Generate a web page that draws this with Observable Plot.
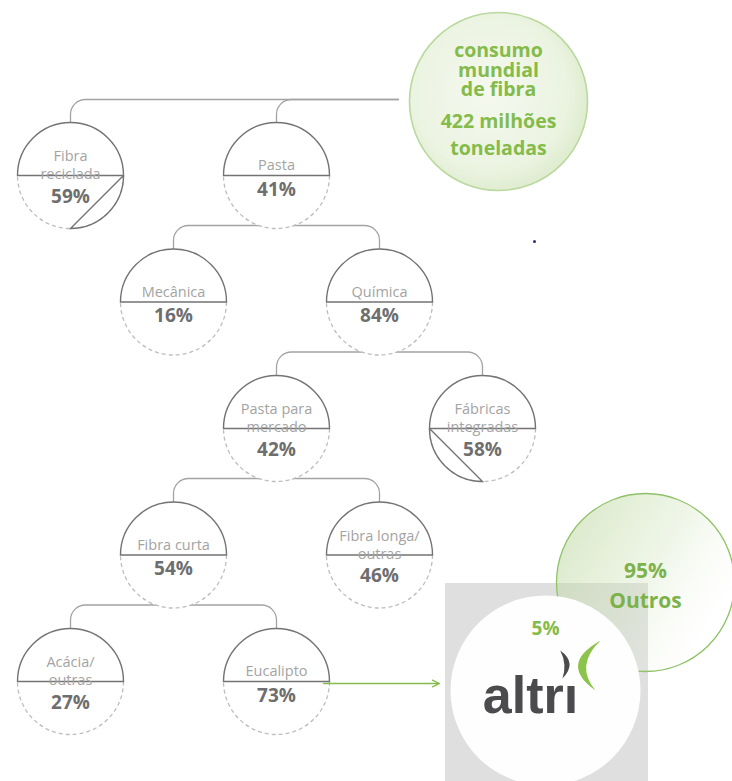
<!DOCTYPE html>
<html>
<head>
<meta charset="utf-8">
<script src="https://cdn.jsdelivr.net/npm/d3@7"></script>
<script src="https://cdn.jsdelivr.net/npm/@observablehq/plot@0.6"></script>
<style>
  html, body { margin: 0; padding: 0; background: #fff; }
  #chart { width: 732px; height: 781px; }
</style>
</head>
<body>
<div id="chart"></div>
<script>
// ---------------- DATA ----------------
const nodeNames   = ["Fibra reciclada", "Pasta", "Mecânica", "Química", "Pasta para mercado", "Fábricas integradas", "Fibra curta", "Fibra longa/outras", "Acácia/outras", "Eucalipto"];
const nodeLabels  = ["Fibra\nreciclada", "Pasta", "Mecânica", "Química", "Pasta para\nmercado", "Fábricas\nintegradas", "Fibra curta", "Fibra longa/\noutras", "Acácia/\noutras", "Eucalipto"];
const nodeShares  = [59, 41, 16, 84, 42, 58, 54, 46, 27, 73];
const nodeParents = [null, null, "Pasta", "Pasta", "Química", "Química", "Pasta para mercado", "Pasta para mercado", "Fibra curta", "Fibra curta"];
const nodeSides   = ["L", "R", "L", "R", "L", "R", "L", "R", "L", "R"];
const slashedNodes = ["Fibra reciclada", "Fábricas integradas"];
const rootTitle   = ["consumo", "mundial", "de fibra"];
const rootTotal   = ["422 milhões", "toneladas"];
const marketNames  = ["altri", "Outros"];
const marketShares = [5, 95];
const highlighted  = "Eucalipto";

// ---------------- LAYOUT ----------------
const X0 = 70, COL = 103, Y0 = 175, ROW = 126.5, R = 53;
const px2x = px => (px - X0) / COL;
const py2y = py => (py - Y0) / ROW + 1;

const nodes = nodeNames.map((name, i) => ({
  name, label: nodeLabels[i], share: nodeShares[i], parent: nodeParents[i], side: nodeSides[i]
}));
const byName = new Map(nodes.map(d => [d.name, d]));
for (const d of nodes) {
  if (!d.parent) { d.depth = 1; d.col = d.side === "L" ? 0 : 2; }
  else { const p = byName.get(d.parent); d.depth = p.depth + 1; d.col = p.col + (d.side === "L" ? -1 : 1); }
  d.twoLine = d.label.includes("\n");
}
const root = { col: px2x(498), depth: py2y(101), r: 89 };
const rD = R / ROW;

// connectors
const links = [];
for (const d of nodes.filter(d => !d.parent)) {
  const id = "root-" + d.name;
  links.push({ id, x: d.col, y: d.depth - rD },
             { id, x: d.col, y: root.depth - 2 / ROW },
             { id, x: root.col - (root.r + 11) / COL, y: root.depth - 2 / ROW });
}
for (const p of nodes) {
  const kids = nodes.filter(c => c.parent === p.name);
  if (kids.length !== 2) continue;
  const [L, Rt] = kids;
  const yc = p.depth + (R - 3) / ROW;
  links.push({ id: p.name, x: L.col, y: L.depth - rD },
             { id: p.name, x: L.col, y: yc },
             { id: p.name, x: Rt.col, y: yc },
             { id: p.name, x: Rt.col, y: Rt.depth - rD });
}

function roundedCurve(radius) {
  return context => {
    let pts = [];
    return {
      areaStart() {}, areaEnd() {},
      lineStart() { pts = []; },
      point(x, y) { pts.push([+x, +y]); },
      lineEnd() {
        const n = pts.length;
        if (!n) return;
        context.moveTo(pts[0][0], pts[0][1]);
        for (let i = 1; i < n - 1; i++) context.arcTo(pts[i][0], pts[i][1], pts[i + 1][0], pts[i + 1][1], radius);
        context.lineTo(pts[n - 1][0], pts[n - 1][1]);
      }
    };
  };
}

// symbols
const rOf = size => Math.sqrt(size / Math.PI);
const upperHalf = { draw(ctx, size) { const r = rOf(size); ctx.moveTo(-r, 0); ctx.arc(0, 0, r, Math.PI, 2 * Math.PI); ctx.closePath(); } };
const lowerHalf = { draw(ctx, size) { const r = rOf(size); ctx.moveTo(r, 0); ctx.arc(0, 0, r, 0, Math.PI); } };
const slashRight = { draw(ctx, size) { const r = rOf(size); ctx.moveTo(r, 0); ctx.lineTo(0, r); ctx.arc(0, 0, r, Math.PI / 2, 0, true); } };
const slashLeft = { draw(ctx, size) { const r = rOf(size); ctx.moveTo(-r, 0); ctx.lineTo(0, r); ctx.arc(0, 0, r, Math.PI / 2, Math.PI); } };
const crescentOpenRight = { draw(ctx, size) { const r = rOf(size);
  ctx.moveTo(0.44 * r, -r); ctx.quadraticCurveTo(-1.25 * r, -0.05 * r, 0.24 * r, r);
  ctx.quadraticCurveTo(-0.6 * r, 0, 0.44 * r, -r); ctx.closePath(); } };
const crescentOpenLeft = { draw(ctx, size) { const r = rOf(size);
  ctx.moveTo(-0.3 * r, -r); ctx.quadraticCurveTo(0.95 * r, -0.1 * r, -0.15 * r, r);
  ctx.quadraticCurveTo(0.2 * r, 0, -0.3 * r, -r); ctx.closePath(); } };

const euc = byName.get(highlighted);
const altri = { x: px2x(545), y: py2y(690), share: marketShares[0], name: marketNames[0] };
const outros = { x: px2x(645), y: py2y(582), share: marketShares[1], name: marketNames[1] };
const panel = [{ x1: px2x(445), x2: px2x(648), y1: py2y(583), y2: py2y(800) }];
const arrow = [{ x1: euc.col + (R - 6) / COL, y1: euc.depth + 2 / ROW, x2: euc.col + (R + 110) / COL, y2: euc.depth + 2 / ROW }];

const green = "#84bb4a";
const labelFont = "Open Sans";

const plot = Plot.plot({
  width: 732, height: 781, margin: 0,
  x: { domain: [0, 4], range: [X0, X0 + 4 * COL], axis: null },
  y: { domain: [1, 5], range: [Y0, Y0 + 4 * ROW], axis: null },
  style: { background: "white", fontFamily: labelFont, overflow: "visible" },
  marks: [
    Plot.line(links, { x: "x", y: "y", z: "id", stroke: "#a3a3a3", strokeWidth: 1.3, curve: roundedCurve(15) }),
    // root circle
    Plot.dot([root], { x: "col", y: "depth", r: root.r, fill: "url(#gRoot)", stroke: "#b9d99e", strokeWidth: 1.6 }),
    Plot.text([root], { x: "col", y: "depth", text: () => rootTitle.join("\n"), dy: -31, lineHeight: 1.0, fontSize: 19.5, fontWeight: 700, fill: green }),
    Plot.text([root], { x: "col", y: "depth", text: () => rootTotal.join("\n"), dy: 31, lineHeight: 1.4, fontSize: 19.5, fontWeight: 700, fill: green }),
    // node circles
    Plot.dot(nodes, { x: "col", y: "depth", r: R, symbol: lowerHalf, fill: "white", stroke: "#bdbdbd", strokeWidth: 1.3, strokeDasharray: "4,3" }),
    Plot.dot(nodes, { x: "col", y: "depth", r: R, symbol: upperHalf, fill: "white", stroke: "#737373", strokeWidth: 1.4 }),
    Plot.dot(nodes.filter(d => slashedNodes.includes(d.name) && d.side === "L"), { x: "col", y: "depth", r: R, symbol: slashRight, fill: "none", stroke: "#737373", strokeWidth: 1.4 }),
    Plot.dot(nodes.filter(d => slashedNodes.includes(d.name) && d.side === "R"), { x: "col", y: "depth", r: R, symbol: slashLeft, fill: "none", stroke: "#737373", strokeWidth: 1.4 }),
    // labels
    Plot.text(nodes.filter(d => !d.twoLine), { x: "col", y: "depth", text: "label", dy: -10, fontSize: 14.5, fill: "#a3a3a3" }),
    Plot.text(nodes.filter(d => d.twoLine), { x: "col", y: "depth", text: "label", dy: -11, lineHeight: 1.25, fontSize: 14.5, fill: "#a3a3a3" }),
    Plot.text(nodes.filter(d => !d.twoLine), { x: "col", y: "depth", text: d => d.share + "%", dy: 14, fontSize: 19, fontWeight: 700, fill: "#6e6e6e" }),
    Plot.text(nodes.filter(d => d.twoLine), { x: "col", y: "depth", text: d => d.share + "%", dy: 21, fontSize: 19, fontWeight: 700, fill: "#6e6e6e" }),
    // arrow to altri
    Plot.arrow(arrow, { x1: "x1", y1: "y1", x2: "x2", y2: "y2", stroke: green, strokeWidth: 1.3, headLength: 9, headAngle: 50 }),
    // market share panel
    Plot.rect(panel, { x1: "x1", x2: "x2", y1: "y1", y2: "y2", fill: "#dfdfdf" }),
    Plot.dot([outros], { x: "x", y: "y", r: 89, fill: "url(#gOutros)", stroke: "#8fc266", strokeWidth: 1.3 }),
    Plot.dot([altri], { x: "x", y: "y", r: 95, fill: "#fefefe" }),
    Plot.text([outros], { x: "x", y: "y", text: d => d.share + "%\n" + d.name, dy: 1, lineHeight: 1.45, fontSize: 21, fontWeight: 700, fill: "#7db14a" }),
    Plot.text([altri], { x: "x", y: "y", text: d => d.share + "%", dy: -62, fontSize: 19, fontWeight: 700, fill: green }),
    Plot.text([altri], { x: "x", y: "y", text: d => d.name.replace("i", "ı"), dx: -15, dy: 6, fontSize: 52, fontWeight: 700, fontFamily: "Liberation Sans", fill: "#4b4b4d" }),
    Plot.dot([altri], { x: "x", y: "y", r: 14, dx: 19, dy: -26, symbol: crescentOpenLeft, fill: "#4b4b4d", stroke: "none" }),
    Plot.dot([altri], { x: "x", y: "y", r: 25, dx: 44, dy: -25, symbol: crescentOpenRight, fill: "#8cc34a", stroke: "none" }),
    // stray dot in the reference
    Plot.dot([{ x: px2x(534), y: py2y(241) }], { x: "x", y: "y", r: 1.5, fill: "#2d2d80" })
  ]
});

const svg = d3.select(plot);
const defs = svg.insert("defs", ":first-child");
const gr = defs.append("radialGradient").attr("id", "gRoot").attr("cx", "45%").attr("cy", "45%").attr("r", "55%");
gr.append("stop").attr("offset", "0").attr("stop-color", "#f5f9ef");
gr.append("stop").attr("offset", "0.8").attr("stop-color", "#ebf3e1");
gr.append("stop").attr("offset", "1").attr("stop-color", "#e0edd1");
const go = defs.append("linearGradient").attr("id", "gOutros").attr("x1", "0").attr("y1", "0.1").attr("x2", "1").attr("y2", "0.7");
go.append("stop").attr("offset", "0").attr("stop-color", "#b5d296").attr("stop-opacity", 0.55);
go.append("stop").attr("offset", "0.55").attr("stop-color", "#d2e5bd").attr("stop-opacity", 0.35);
go.append("stop").attr("offset", "1").attr("stop-color", "#ffffff").attr("stop-opacity", 0);

document.getElementById("chart").appendChild(plot);
</script>
</body>
</html>
